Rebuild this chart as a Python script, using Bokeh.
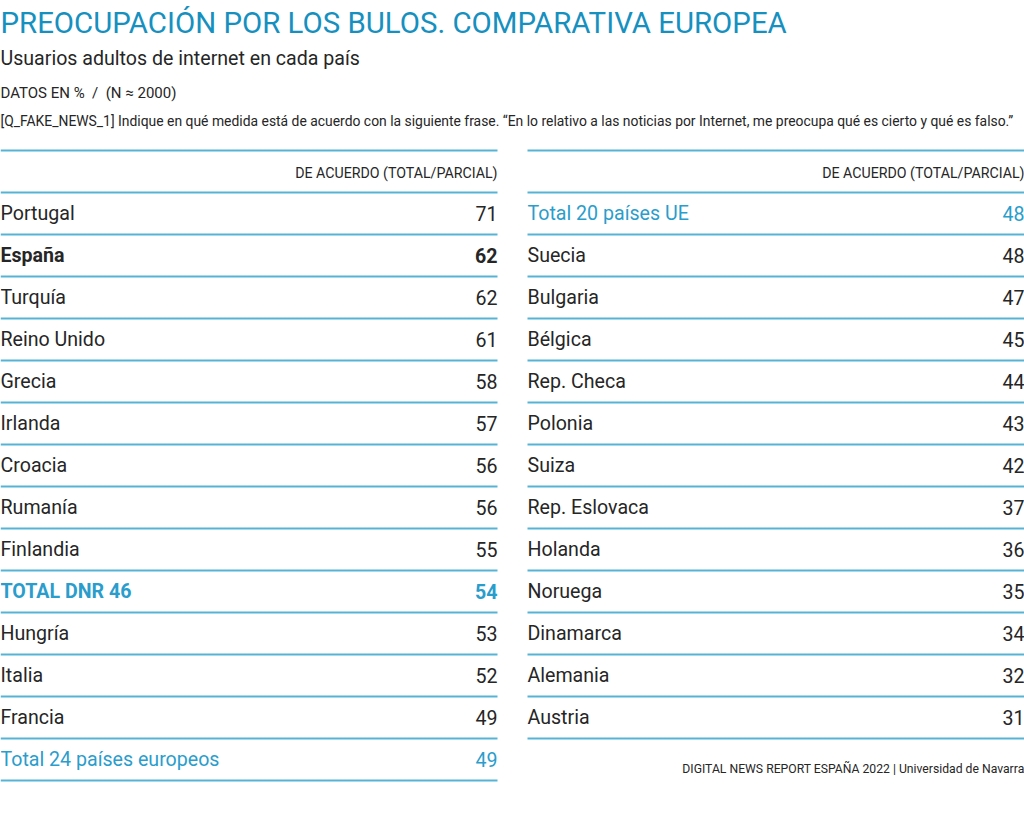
from bokeh.plotting import figure
from bokeh.models import Range1d, ColumnDataSource
from bokeh.core.properties import value
from bokeh.embed import file_html
from bokeh.resources import INLINE

title = "PREOCUPACIÓN POR LOS BULOS. COMPARATIVA EUROPEA"
subtitle = "Usuarios adultos de internet en cada país"
units = "DATOS EN %\u00a0\u00a0/\u00a0\u00a0(N ≈ 2000)"
question = ("[Q_FAKE_NEWS_1] Indique en qué medida está de acuerdo con la siguiente frase. "
            "“En lo relativo a las noticias por Internet, me preocupa qué es cierto y qué es falso.”")
column_header = "DE ACUERDO (TOTAL/PARCIAL)"
footer = "DIGITAL NEWS REPORT ESPAÑA 2022 | Universidad de Navarra"

left_labels = ["Portugal", "España", "Turquía", "Reino Unido", "Grecia", "Irlanda",
               "Croacia", "Rumanía", "Finlandia", "TOTAL DNR 46", "Hungría", "Italia",
               "Francia", "Total 24 países europeos"]
left_values = [71, 62, 62, 61, 58, 57, 56, 56, 55, 54, 53, 52, 49, 49]

right_labels = ["Total 20 países UE", "Suecia", "Bulgaria", "Bélgica", "Rep. Checa",
                "Polonia", "Suiza", "Rep. Eslovaca", "Holanda", "Noruega", "Dinamarca",
                "Alemania", "Austria"]
right_values = [48, 48, 47, 45, 44, 43, 42, 37, 36, 35, 34, 32, 31]

# style rules
BLUE_TITLE = "#1690bf"
BLUE_LINE = "#56b3d6"
BLUE_TEXT = "#2a9dcc"
DARK = "#262626"
FONT = value("Roboto")
highlight_blue = {"TOTAL DNR 46", "Total 24 países europeos", "Total 20 países UE"}
bold_rows = {"España", "TOTAL DNR 46"}

W, H = 1024, 800
p = figure(width=W, height=H, x_range=Range1d(0, W), y_range=Range1d(H, 0),
           output_backend="svg", toolbar_location=None, min_border=0)
p.axis.visible = False
p.grid.visible = False
p.outline_line_color = None
p.background_fill_color = "white"
p.border_fill_color = "white"

# header texts
p.text(x=[0], y=[22], text=[title], text_font=FONT, text_font_size="29.4px",
       text_color=BLUE_TITLE, text_baseline="middle", text_align="left")
p.text(x=[0], y=[58], text=[subtitle], text_font=FONT, text_font_size="19.6px",
       text_color=DARK, text_baseline="middle", text_align="left")
p.text(x=[0], y=[92], text=[units], text_font=FONT, text_font_size="15px",
       text_color=DARK, text_baseline="middle", text_align="left")
p.text(x=[0], y=[120], text=[question], text_font=FONT, text_font_size="13.9px",
       text_color=DARK, text_baseline="middle", text_align="left")

ROW0 = 213
PITCH = 42
columns = [(0, 497, left_labels, left_values), (527, 1024, right_labels, right_values)]

for x0, x1, labels, values in columns:
    n = len(labels)
    # horizontal rules
    ys = [150] + [192 + PITCH * i for i in range(n + 1)]
    p.segment(x0=[x0] * len(ys), x1=[x1] * len(ys), y0=ys, y1=ys,
              line_color=BLUE_LINE, line_width=2)
    p.text(x=[x1], y=[172], text=[column_header], text_font=FONT, text_font_size="14.2px",
           text_color=DARK, text_baseline="middle", text_align="right")
    rows = ColumnDataSource(dict(
        xl=[x0] * n, xr=[x1] * n,
        y=[ROW0 + PITCH * i for i in range(n)],
        label=labels, val=[str(v) for v in values],
        color=[BLUE_TEXT if l in highlight_blue else DARK for l in labels],
        style=["bold" if l in bold_rows else "normal" for l in labels],
    ))
    p.text(x="xl", y="y", text="label", source=rows, text_font=FONT,
           text_font_size="19.6px", text_color="color", text_font_style="style",
           text_baseline="middle", text_align="left")
    p.text(x="xr", y="y", text="val", source=rows, text_font=FONT,
           text_font_size="19.6px", text_color="color", text_font_style="style",
           text_baseline="middle", text_align="right")

p.text(x=[1024], y=[768], text=[footer], text_font=FONT, text_font_size="12.2px",
       text_color=DARK, text_baseline="middle", text_align="right")

open("out.html", "w").write(file_html(p, INLINE))
